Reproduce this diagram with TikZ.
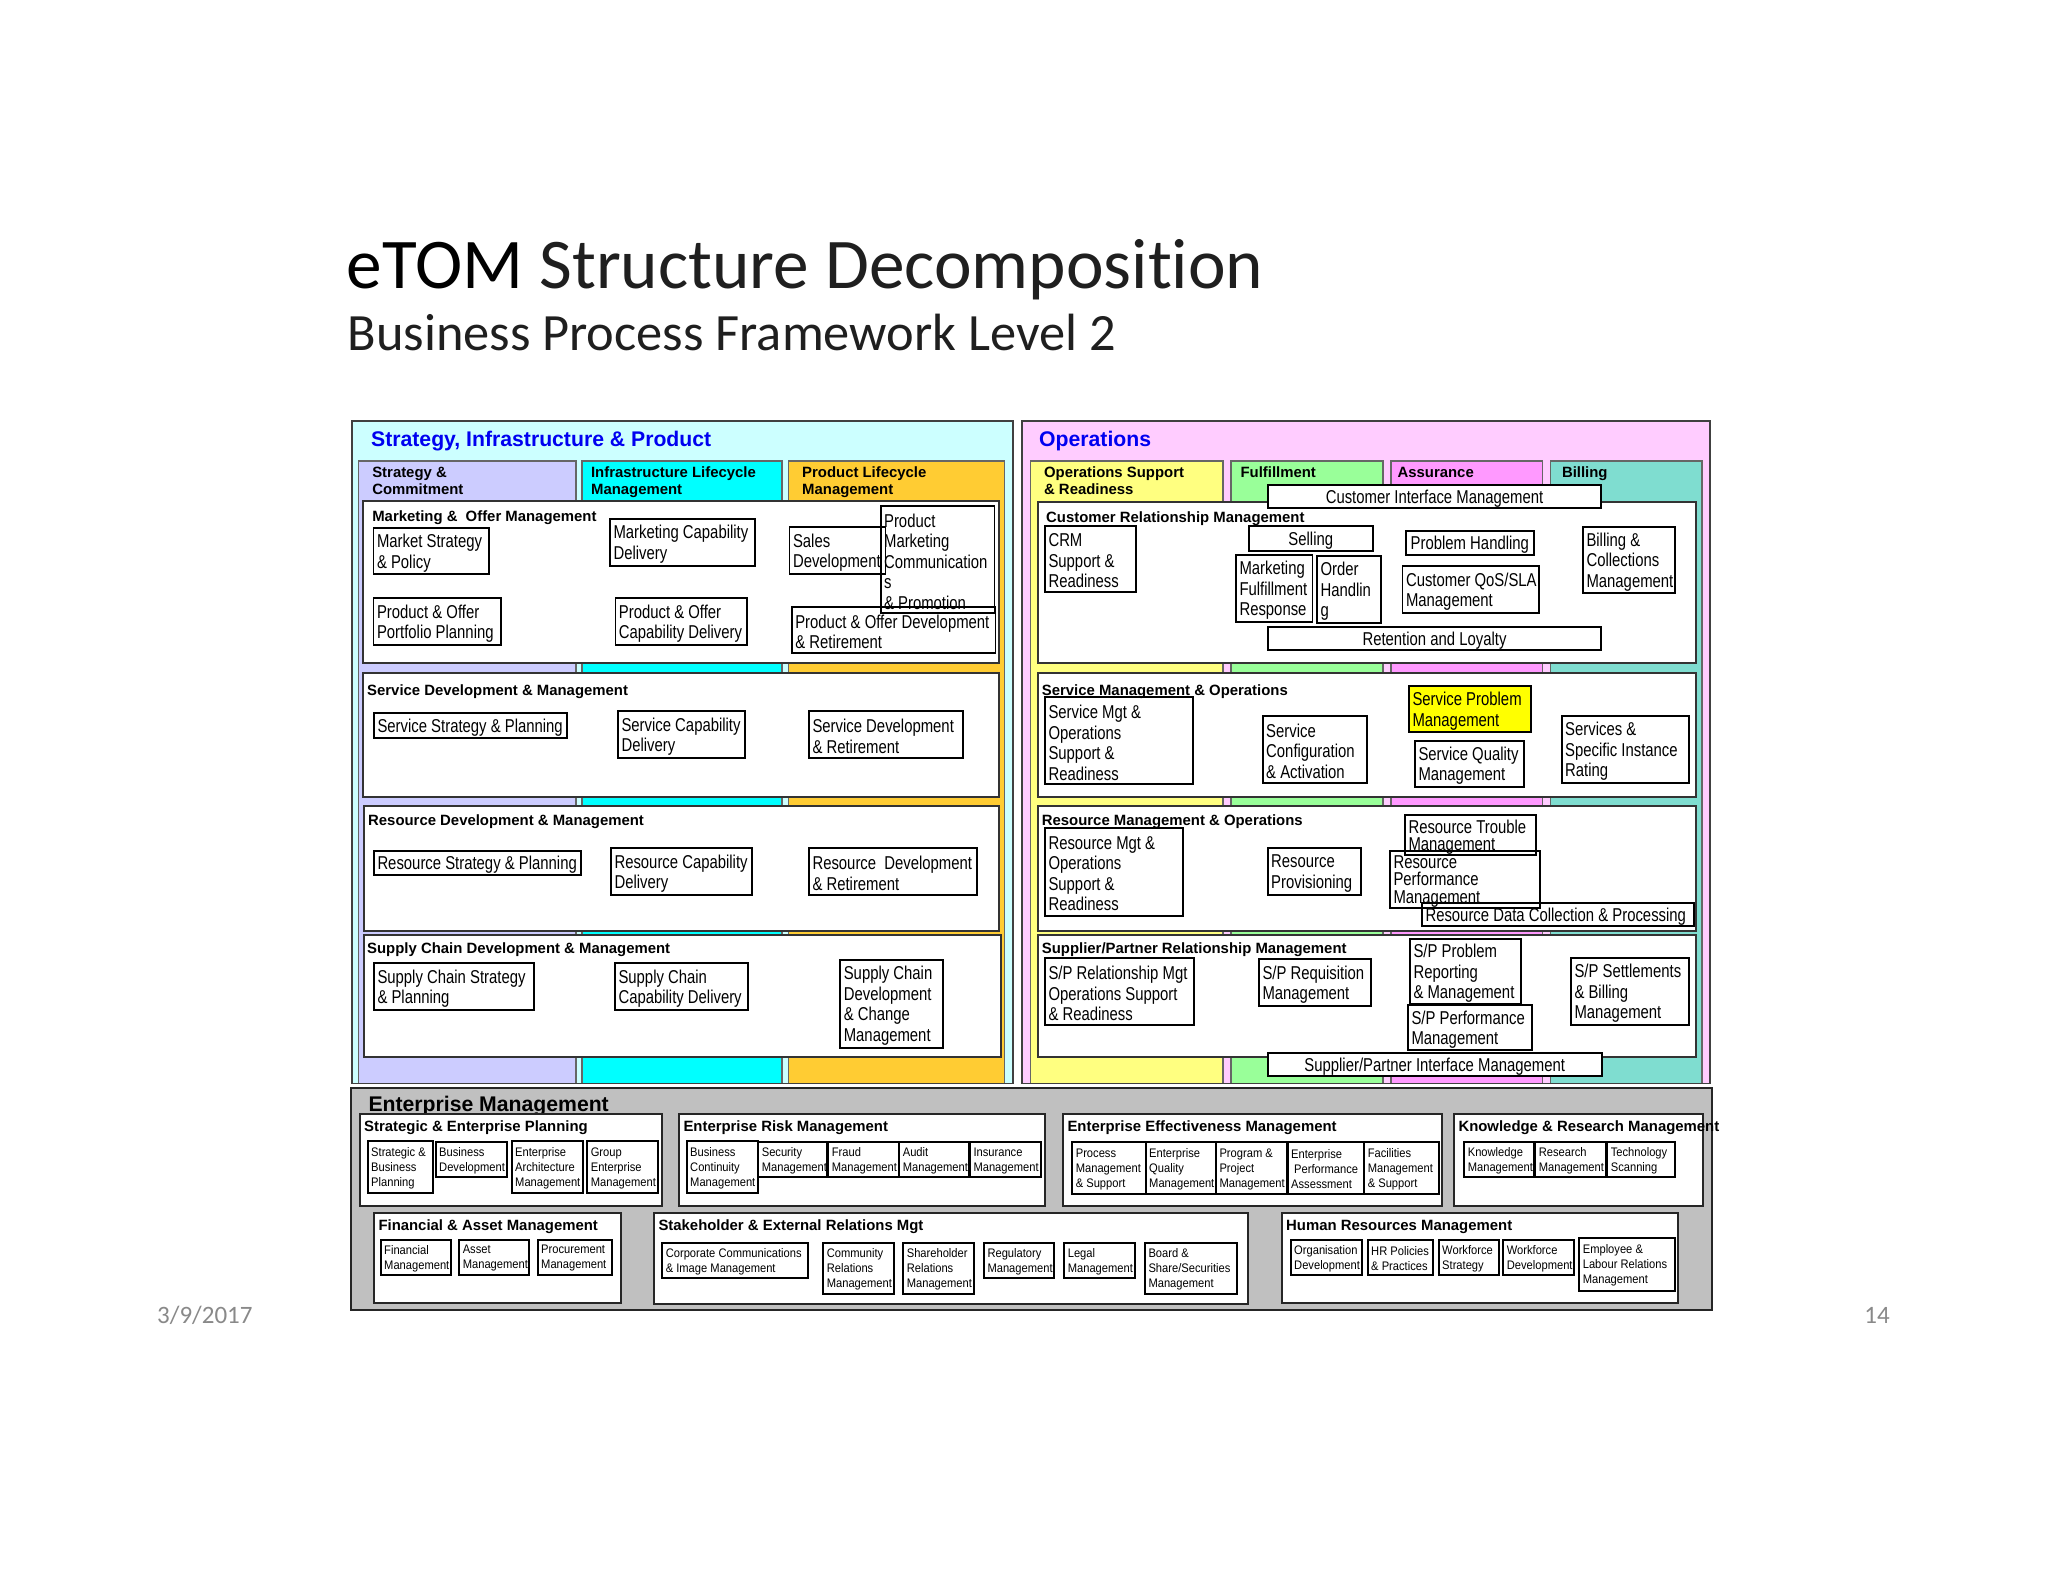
\documentclass[tikz,border=0pt]{standalone}
\usepackage{fontspec}
\newfontfamily\farl{Liberation Sans}
\newfontfamily\fnar[FakeStretch=0.80]{Liberation Sans}
\newfontfamily\fsml[FakeStretch=0.90]{Liberation Sans}
\newfontfamily\fcal[Ligatures={NoCommon}]{Carlito}
\definecolor{cSip}{HTML}{CCFFFF}
\definecolor{cLav}{HTML}{CCCCFF}
\definecolor{cCyn}{HTML}{00FFFF}
\definecolor{cGld}{HTML}{FFCC33}
\definecolor{cOps}{HTML}{FFCCFF}
\definecolor{cYlw}{HTML}{FFFF80}
\definecolor{cGrn}{HTML}{99FF99}
\definecolor{cPnk}{HTML}{FF99FF}
\definecolor{cTea}{HTML}{7FDDD0}
\definecolor{cSpm}{HTML}{FFFF00}
\definecolor{cEnt}{HTML}{C0C0C0}
\definecolor{cBlu}{HTML}{0000F0}
\definecolor{cDat}{HTML}{898989}
\tikzset{
  pbox/.style={draw=black, line width=1.8pt, inner sep=0pt, outer sep=0pt},
  ptxt/.style={font={\fnar\fontsize{18.6}{20.5}\selectfont}, align=left, inner sep=0pt, yshift=-2pt},
  ptxtt/.style={font={\fnar\fontsize{18.6}{17.5}\selectfont}, align=left, inner sep=0pt, yshift=-2pt},
  stxt/.style={font={\fsml\fontsize{12.4}{15}\selectfont}, align=left, inner sep=0pt, yshift=-1pt},
  htxt/.style={font={\farl\bfseries\fontsize{14.9}{17}\selectfont}, inner sep=0pt, anchor=base west},
  ttl/.style={font={\farl\bfseries\fontsize{21.2}{24}\selectfont}, inner sep=0pt, anchor=base west},
  panelb/.style={draw=black!75, line width=1.8pt},
  colb/.style={draw=black!60, line width=1.2pt},
  sectb/.style={draw=black!80, fill=white, line width=1.8pt},
  entb/.style={draw=black!85, fill=white, line width=2pt},
}
\newcommand\procbox[8][]{%
  \node[pbox,#1,minimum width={(#6-#4)*1pt},minimum height={(#7-#5)*1pt}] (#3) at ({(#4+#6)/2},{(#5+#7)/2}) {};
  \node[#2,anchor=west] (#3-t) at ([xshift=3.3pt]#3.west) {#8};}
\newcommand\cprocbox[8][]{%
  \node[pbox,#1,minimum width={(#6-#4)*1pt},minimum height={(#7-#5)*1pt}] (#3) at ({(#4+#6)/2},{(#5+#7)/2}) {};
  \node[#2] (#3-t) at (#3.center) {#8};}
\begin{document}
\begin{tikzpicture}[x=1pt,y=-1pt]
\fill[white] (0,0) rectangle (2048,1582);
\useasboundingbox (0,0) rectangle (2048,1582);

% ---------- Titles ----------
\node[anchor=base west, inner sep=0pt, font={\fcal\fontsize{71.3}{80}\selectfont}] (title) at (346.7,288.3) {eTOM {\color{black!88}Structure Decomposition}};
\node[anchor=base west, inner sep=0pt, font={\fcal\fontsize{52.4}{60}\selectfont}, text=black!88] (subtitle) at (347.3,350) {Business Process Framework Level 2};
\node[anchor=base west, inner sep=0pt, font={\fcal\fontsize{25}{30}\selectfont}, text=cDat] (date) at (157,1323) {3/9/2017};
\node[anchor=base east, inner sep=0pt, font={\fcal\fontsize{25}{30}\selectfont}, text=cDat] (page) at (1890,1323) {14};

% ---------- SIP panel ----------
\fill[cSip] (352,421) rectangle (1013,1083.5);
\draw[colb, fill=cLav] (358.5,461) rectangle (576,1083.5);
\draw[colb, fill=cCyn] (582,461) rectangle (782,1083.5);
\draw[colb, fill=cGld] (788.5,461) rectangle (1004.5,1083.5);
\draw[panelb] (352,421) rectangle (1013,1083.5);
\node[ttl, text=cBlu] (siptitle) at (371,446) {Strategy, Infrastructure \& Product};
\node[htxt] (h1a) at (372.1,477) {Strategy \&};
\node[htxt] (h1b) at (372.1,494) {Commitment};
\node[htxt] (h2a) at (590.9,477) {Infrastructure Lifecycle};
\node[htxt] (h2b) at (590.9,494) {Management};
\node[htxt] (h3a) at (802,477) {Product Lifecycle};
\node[htxt] (h3b) at (802,494) {Management};

\draw[sectb] (363.3,501) rectangle (999,663);
\draw[sectb] (363.3,673) rectangle (999,797);
\draw[sectb] (364,806) rectangle (999,931);
\draw[sectb] (364.3,935) rectangle (1000.7,1057.3);
\node[htxt] (s1) at (372.1,521) {Marketing \&\hspace{4pt} Offer Management};
\node[htxt] (s2) at (367,695) {Service Development \& Management};
\node[htxt] (s3) at (368,825) {Resource Development \& Management};
\node[htxt] (s4) at (367,953) {Supply Chain Development \& Management};

\procbox{ptxt}{msp}{373.5}{527.7}{488.7}{574.3}{Market Strategy\\\& Policy}
\procbox{ptxt}{popp}{373.5}{598}{500.7}{645}{Product \& Offer\\Portfolio Planning}
\procbox{ptxt}{mcd}{610}{519}{754.7}{565.7}{Marketing Capability\\Delivery}
\procbox{ptxt}{pocd}{615.4}{598}{747}{645}{Product \& Offer\\Capability Delivery}
\procbox{ptxt}{sdev}{789.5}{527}{885.5}{574}{Sales\\Development}
\procbox{ptxt}{pmcp}{880.6}{506}{994.5}{613}{Product\\Marketing\\Communication\\s\\\& Promotion}
\procbox{ptxt}{podr}{791.8}{607}{995.4}{653}{Product \& Offer Development\\\& Retirement}

\procbox{ptxt}{ssp}{374}{713}{567}{738}{Service Strategy \& Planning}
\procbox{ptxt}{scd}{618}{711}{745}{758}{Service Capability\\Delivery}
\procbox{ptxt}{sdr}{809}{710.7}{963}{757.7}{Service Development\\\& Retirement}
\procbox{ptxt}{rsp}{374}{851}{581}{875}{Resource Strategy \& Planning}
\procbox{ptxt}{rcd}{611}{848}{752}{895}{Resource Capability\\Delivery}
\procbox{ptxt}{rdr}{809}{847.7}{976.7}{895}{Resource\hspace{4pt} Development\\\& Retirement}
\procbox{ptxt}{scsp}{374}{963}{534}{1010}{Supply Chain Strategy\\\& Planning}
\procbox{ptxt}{sccd}{615}{963}{748}{1010}{Supply Chain\\Capability Delivery}
\procbox{ptxt}{scdc}{840.3}{960}{943.3}{1047.7}{Supply Chain\\Development\\\& Change\\Management}

% ---------- Operations panel ----------
\fill[cOps] (1022.3,421) rectangle (1710,1083.5);
\draw[colb, fill=cYlw] (1030.7,461) rectangle (1223,1083.5);
\draw[colb, fill=cGrn] (1231,461) rectangle (1383,1083.5);
\draw[colb, fill=cPnk] (1391,461) rectangle (1542.5,1083.5);
\draw[colb, fill=cTea] (1550.7,461) rectangle (1702,1083.5);
\draw[panelb] (1022.3,421) rectangle (1710,1083.5);
\node[ttl, text=cBlu] (opstitle) at (1039,446) {Operations};
\node[htxt] (h4a) at (1043.9,477) {Operations Support};
\node[htxt] (h4b) at (1043.9,494) {\& Readiness};
\node[htxt] (h5) at (1240.4,477) {Fulfillment};
\node[htxt] (h6) at (1397.4,477) {Assurance};
\node[htxt] (h7) at (1561.8,477) {Billing};

\draw[sectb] (1037.7,502) rectangle (1695.7,663);
\draw[sectb] (1037.7,672.7) rectangle (1695.7,796.7);
\draw[sectb] (1037.7,806) rectangle (1695.7,930.7);
\draw[sectb] (1037.7,935) rectangle (1695.7,1057.3);
\node[htxt] (o1) at (1046,522) {Customer Relationship Management};
\node[htxt] (o2) at (1041.7,695) {Service Management \& Operations};
\node[htxt] (o3) at (1041.7,825) {Resource Management \& Operations};
\node[htxt] (o4) at (1041.7,953) {Supplier/Partner Relationship Management};

\cprocbox[fill=white]{ptxt}{cim}{1268}{485}{1601}{508}{Customer Interface Management}
\procbox{ptxt}{crmsr}{1045}{526}{1136}{592}{CRM\\Support \&\\Readiness}
\cprocbox{ptxt}{sell}{1248.6}{526}{1373}{551}{Selling}
\procbox{ptxt}{mfr}{1236}{555}{1312.5}{622}{Marketing\\Fulfillment\\Response}
\procbox{ptxt}{oh}{1317}{556}{1381}{623}{Order\\Handlin\\g}
\cprocbox{ptxt}{ph}{1405.7}{531}{1534}{555}{Problem Handling}
\procbox{ptxt}{cqos}{1402.5}{566}{1539}{613}{Customer QoS/SLA\\Management}
\procbox{ptxt}{bcm}{1583}{527}{1675}{593}{Billing \&\\Collections\\Management}
\cprocbox{ptxt}{rl}{1268}{627}{1601}{650}{Retention and Loyalty}

\procbox{ptxt}{smosr}{1045}{697}{1192.7}{784.3}{Service Mgt \&\\Operations\\Support \&\\Readiness}
\procbox{ptxt}{sca}{1262.7}{715.7}{1366.7}{782.7}{Service\\Configuration\\\& Activation}
\procbox[fill=cSpm]{ptxt}{spm}{1409}{686}{1531}{732.3}{Service Problem\\Management}
\procbox{ptxt}{sqm}{1415}{740.7}{1524}{786.7}{Service Quality\\Management}
\procbox{ptxt}{ssir}{1561.7}{715.7}{1689.3}{782.7}{Services \&\\Specific Instance\\Rating}

\procbox{ptxt}{rmosr}{1045}{828}{1182.7}{915.7}{Resource Mgt \&\\Operations\\Support \&\\Readiness}
\procbox{ptxt}{rprov}{1267.7}{848}{1361}{895}{Resource\\Provisioning}
\procbox{ptxtt}{rtm}{1405}{815}{1536}{855}{Resource Trouble\\Management}
\procbox{ptxtt}{rpm}{1390}{850.7}{1540}{908}{Resource\\Performance\\Management}
\procbox{ptxt}{rdcp}{1422}{902.7}{1694}{926}{Resource Data Collection \& Processing}

\procbox{ptxt}{sprm}{1045}{958}{1194}{1025}{S/P Relationship Mgt\\Operations Support\\\& Readiness}
\procbox{ptxt}{sprq}{1259}{959}{1370.7}{1006}{S/P Requisition\\Management}
\procbox{ptxt}{spprm}{1410}{938.7}{1520.7}{1004.3}{S/P Problem\\Reporting\\\& Management}
\procbox{ptxt}{sppm}{1408}{1005}{1532}{1050}{S/P Performance\\Management}
\procbox{ptxt}{spsb}{1571}{958}{1689.3}{1025}{S/P Settlements\\\& Billing\\Management}
\cprocbox[fill=white]{ptxt}{spim}{1267.7}{1052.7}{1601.7}{1076}{Supplier/Partner Interface Management}

% ---------- Enterprise Management ----------
\draw[draw=black!85, fill=cEnt, line width=2pt] (351,1088.3) rectangle (1712.3,1310);
\node[ttl] (enttitle) at (368.3,1111.7) {Enterprise Management};
\draw[entb] (360,1114) rectangle (661.7,1206);
\draw[entb] (679.3,1114) rectangle (1045,1206);
\draw[entb] (1063.3,1114) rectangle (1442,1206);
\draw[entb] (1454,1114) rectangle (1703.3,1206);
\draw[entb] (374.3,1212.7) rectangle (620.7,1303.3);
\draw[entb] (654.3,1212.7) rectangle (1248.3,1304.3);
\draw[entb] (1282.3,1212.7) rectangle (1678.3,1303.3);
\node[htxt] (e1) at (364,1131.7) {Strategic \& Enterprise Planning};
\node[htxt] (e2) at (683.3,1131.7) {Enterprise Risk Management};
\node[htxt] (e3) at (1067.3,1131.7) {Enterprise Effectiveness Management};
\node[htxt] (e4) at (1458.3,1131.7) {Knowledge \& Research Management};
\node[htxt] (e5) at (378.3,1230.5) {Financial \& Asset Management};
\node[htxt] (e6) at (658.3,1230.5) {Stakeholder \& External Relations Mgt};
\node[htxt] (e7) at (1286,1230.5) {Human Resources Management};

\procbox{stxt}{sbp}{367.7}{1141}{432.7}{1193.3}{Strategic \&\\Business\\Planning}
\procbox{stxt}{bd}{435.7}{1142.3}{507.3}{1177.3}{Business\\Development}
\procbox{stxt}{eam}{511.7}{1141}{582.7}{1193.3}{Enterprise\\Architecture\\Management}
\procbox{stxt}{gem}{587.3}{1141}{658.3}{1193.3}{Group\\Enterprise\\Management}

\procbox{stxt}{bcmg}{686.7}{1141}{757.7}{1193.3}{Business\\Continuity\\Management}
\procbox{stxt}{secm}{758.3}{1142.3}{827.3}{1177.3}{Security\\Management}
\procbox{stxt}{frm}{828.3}{1142.3}{899}{1177.3}{Fraud\\Management}
\procbox{stxt}{aum}{899.3}{1142.3}{969}{1177.3}{Audit\\Management}
\procbox{stxt}{inm}{970}{1142.3}{1040.7}{1177.3}{Insurance\\Management}

\procbox{stxt}{pms}{1072.3}{1142.3}{1145.7}{1194.3}{Process\\Management\\\& Support}
\procbox{stxt}{eqm}{1145.7}{1142.3}{1216}{1194.3}{Enterprise\\Quality\\Management}
\procbox{stxt}{ppm}{1216}{1142.3}{1286.7}{1194.3}{Program \&\\Project\\Management}
\procbox{stxt}{epa}{1287.7}{1142.3}{1364.3}{1194.3}{Enterprise\\\hspace{3pt}Performance\\Assessment}
\procbox{stxt}{fms}{1364.3}{1142.3}{1438.7}{1194.3}{Facilities\\Management\\\& Support}

\procbox{stxt}{km}{1464.3}{1142.3}{1534.3}{1177.3}{Knowledge\\Management}
\procbox{stxt}{rsm}{1535.3}{1142.3}{1605.7}{1177.3}{Research\\Management}
\procbox{stxt}{tsc}{1607.3}{1142.3}{1675}{1177.3}{Technology\\Scanning}

\procbox{stxt}{fim}{380.7}{1240}{451}{1275}{Financial\\Management}
\procbox{stxt}{asm}{459.3}{1240}{529.3}{1275}{Asset\\Management}
\procbox{stxt}{prm}{537.7}{1240}{611.7}{1275}{Procurement\\Management}

\procbox{stxt}{cci}{662.3}{1243.3}{808.3}{1278.3}{Corporate Communications\\\& Image Management}
\procbox{stxt}{comr}{823.3}{1242.7}{894.3}{1294.3}{Community\\Relations\\Management}
\procbox{stxt}{shr}{903.3}{1242.7}{974}{1294.3}{Shareholder\\Relations\\Management}
\procbox{stxt}{regm}{984}{1243.3}{1054}{1278.3}{Regulatory\\Management}
\procbox{stxt}{legm}{1064.3}{1243.3}{1135}{1278.3}{Legal\\Management}
\procbox{stxt}{bss}{1145}{1242.7}{1236.7}{1294.3}{Board \&\\Share/Securities\\Management}

\procbox{stxt}{orgd}{1290.7}{1240}{1361.7}{1275}{Organisation\\Development}
\procbox{stxt}{hrp}{1367.7}{1240}{1433.3}{1275}{HR Policies\\\& Practices}
\procbox{stxt}{wfs}{1438.7}{1240}{1499}{1275}{Workforce\\Strategy}
\procbox{stxt}{wfd}{1503.3}{1240}{1574.3}{1275}{Workforce\\Development}
\procbox{stxt}{elr}{1579.3}{1238.3}{1675}{1291}{Employee \&\\Labour Relations\\Management}
\end{tikzpicture}
\end{document}
